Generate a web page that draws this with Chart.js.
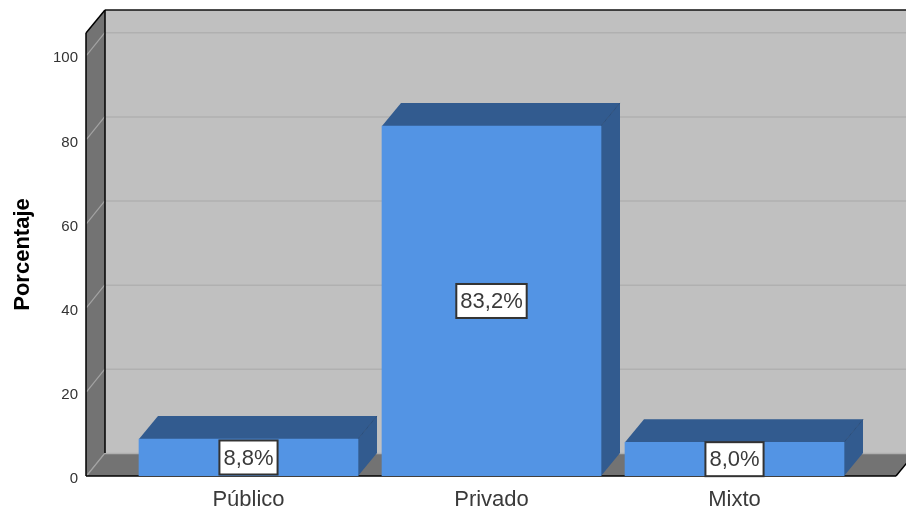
<!DOCTYPE html>
<html>
<head>
<meta charset="utf-8">
<title>Porcentaje</title>
<script src="https://cdn.jsdelivr.net/npm/chart.js@4"></script>
<style>
  html, body { margin: 0; padding: 0; background: #fff; }
  #wrap { width: 906px; height: 509px; position: relative; overflow: hidden; }
</style>
</head>
<body>
<div id="wrap"><canvas id="grafica" width="906" height="509"></canvas></div>
<script>
const categorias = ['Público', 'Privado', 'Mixto'];
const porcentajes = [8.8, 83.2, 8.0];
const etiquetas = ['8,8%', '83,2%', '8,0%'];

const FUENTE = '"Liberation Sans", Arial, sans-serif';
const PROF_X = 19, PROF_Y = 23; // profundidad del efecto 3D

const poly = (ctx, pts, fill) => {
  ctx.beginPath();
  pts.forEach((p, i) => i ? ctx.lineTo(p[0], p[1]) : ctx.moveTo(p[0], p[1]));
  ctx.closePath();
  ctx.fillStyle = fill;
  ctx.fill();
};
const line = (ctx, x1, y1, x2, y2, color, w) => {
  ctx.beginPath();
  ctx.moveTo(x1, y1);
  ctx.lineTo(x2, y2);
  ctx.strokeStyle = color;
  ctx.lineWidth = w;
  ctx.stroke();
};

// ── Paredes, suelo y rejilla ──────────────────────────────────────────────────
const caja3d = {
  id: 'caja3d',
  beforeDatasetsDraw(chart) {
    const { ctx, chartArea: a, scales: { y } } = chart;
    const l = a.left, r = a.right, t = a.top, b = a.bottom;
    ctx.save();
    poly(ctx, [[l + PROF_X, t - PROF_Y], [r + PROF_X, t - PROF_Y], [r + PROF_X, b - PROF_Y], [l + PROF_X, b - PROF_Y]], '#c0c0c0');
    poly(ctx, [[l, t], [l + PROF_X, t - PROF_Y], [l + PROF_X, b - PROF_Y], [l, b]], '#737373');
    poly(ctx, [[l, b], [l + PROF_X, b - PROF_Y], [r + PROF_X, b - PROF_Y], [r, b]], '#737373');

    y.ticks.forEach(tick => {
      const py = y.getPixelForValue(tick.value);
      line(ctx, l + 0.5, py, l + PROF_X, py - PROF_Y, '#a3a3a3', 1.2);
      line(ctx, l + PROF_X, py - PROF_Y + 0.5, r + PROF_X, py - PROF_Y + 0.5, '#b0b0b0', 1.5);
    });

    line(ctx, l, t, l + PROF_X, t - PROF_Y, '#000', 1.5);
    line(ctx, l + PROF_X, t - PROF_Y, r + PROF_X, t - PROF_Y, '#111', 1.5);
    line(ctx, l + PROF_X, t - PROF_Y, l + PROF_X, b - PROF_Y, '#000', 1.5);
    line(ctx, l, t, l, b, '#000', 1.5);
    line(ctx, l, b, r, b, '#000', 1.5);
    line(ctx, r, b, r + PROF_X, b - PROF_Y, '#000', 1.5);

    // caras superior y lateral de cada barra
    chart.getDatasetMeta(0).data.forEach(bar => {
      const izq = bar.x - bar.width / 2, der = bar.x + bar.width / 2;
      poly(ctx, [[izq, bar.y], [izq + PROF_X, bar.y - PROF_Y], [der + PROF_X, bar.y - PROF_Y], [der, bar.y]], '#325b8f');
      poly(ctx, [[der, bar.y], [der + PROF_X, bar.y - PROF_Y], [der + PROF_X, bar.base - PROF_Y], [der, bar.base]], '#325b8f');
      line(ctx, der, bar.y, der + PROF_X, bar.y - PROF_Y, '#2b4f7d', 1);
    });
    ctx.restore();
  },
  afterDatasetsDraw(chart) {
    const { ctx } = chart;
    ctx.save();
    ctx.font = '22px ' + FUENTE;
    ctx.textAlign = 'center';
    ctx.textBaseline = 'middle';
    chart.getDatasetMeta(0).data.forEach((bar, i) => {
      const ancho = ctx.measureText(etiquetas[i]).width + 8;
      const alto = 34;
      const cy = (bar.y + bar.base) / 2;
      ctx.fillStyle = '#fff';
      ctx.strokeStyle = '#333';
      ctx.lineWidth = 2;
      ctx.fillRect(bar.x - ancho / 2, cy - alto / 2, ancho, alto);
      ctx.strokeRect(bar.x - ancho / 2, cy - alto / 2, ancho, alto);
      ctx.fillStyle = '#3a3a3a';
      ctx.fillText(etiquetas[i], bar.x, cy + 1);
    });
    ctx.restore();
  },
};

new Chart(document.getElementById('grafica'), {
  type: 'bar',
  data: {
    datasets: [{
      data: categorias.map((c, i) => ({ x: i, y: porcentajes[i] })),
      backgroundColor: '#5394e4',
      borderWidth: 0,
      barThickness: 219,
    }],
  },
  options: {
    responsive: false,
    animation: false,
    layout: { padding: { top: 33, right: 10, left: 0, bottom: 0 } },
    plugins: { legend: { display: false }, tooltip: { enabled: false } },
    scales: {
      x: {
        type: 'linear',
        offset: false,
        min: -0.6687,
        max: 2.6646,
        grid: { display: false, drawTicks: false },
        border: { display: false },
        afterFit: s => { s.height = 33; },
        ticks: {
          stepSize: 1,
          includeBounds: false,
          autoSkip: false,
          maxRotation: 0,
          padding: 11,
          color: '#3a3a3a',
          font: { size: 22, family: FUENTE },
          callback: v => categorias[v] ?? '',
        },
      },
      y: {
        min: 0,
        max: 105.3,
        grid: { display: false, drawTicks: false },
        border: { display: false },
        afterFit: s => { s.width = 86; },
        title: {
          display: true,
          text: 'Porcentaje',
          color: '#000',
          font: { size: 22, weight: 'bold', family: FUENTE },
          padding: { top: 10, bottom: 0 },
        },
        ticks: {
          stepSize: 20,
          includeBounds: false,
          padding: 8,
          labelOffset: 3,
          color: '#333',
          font: { size: 15, family: FUENTE },
        },
      },
    },
  },
  plugins: [caja3d],
});
</script>
</body>
</html>
